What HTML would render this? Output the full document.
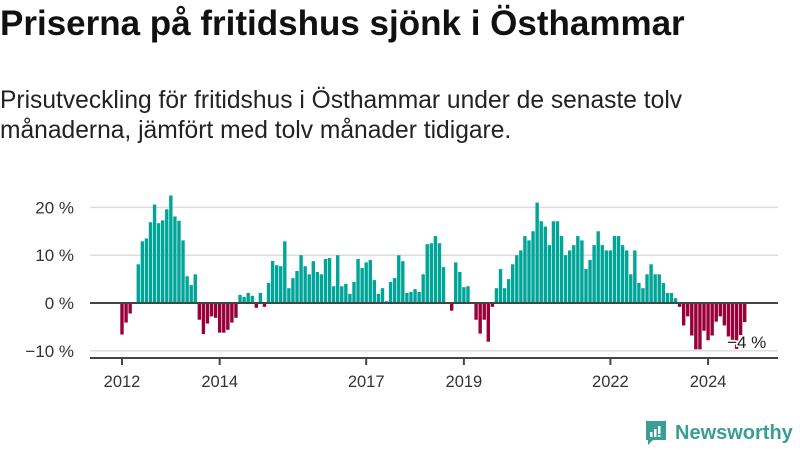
<!DOCTYPE html>
<html><head><meta charset="utf-8"><style>
body{margin:0;background:#fff;font-family:"Liberation Sans",sans-serif;}
#wrap{position:relative;width:800px;height:450px;overflow:hidden;}
h1{position:absolute;left:0;top:4px;margin:0;font-size:35px;line-height:40px;font-weight:bold;color:#111;}
p.sub{position:absolute;left:0;top:86px;margin:0;font-size:24.6px;line-height:30px;color:#222;}
#logo{position:absolute;left:644px;top:420px;display:flex;align-items:center;}
#logo span{font-size:20px;color:#3a9e94;font-weight:bold;margin-left:7px;}
</style></head><body>
<div id="wrap">
<h1>Priserna på fritidshus sjönk i Östhammar</h1>
<p class="sub">Prisutveckling för fritidshus i Östhammar under de senaste tolv<br>månaderna, jämfört med tolv månader tidigare.</p>
<svg id="chart" width="800" height="450" style="position:absolute;left:0;top:0"></svg>
<div id="logo">
<svg width="24" height="26" viewBox="0 0 24 26"><path d="M2 1h20v19H9l-5 5v-5H2z" fill="#3a9e94"/><rect x="6" y="12" width="2.5" height="5" fill="#fff"/><rect x="10" y="9" width="2.5" height="8" fill="#fff"/><rect x="14" y="6" width="2.5" height="8" fill="#fff"/><rect x="14" y="15" width="2.5" height="2" fill="#fff"/></svg>
<span>Newsworthy</span></div>
</div>
<script>
const startYear = 2012;
const values = [-6.6,-4.1,-2.2,0,8.1,12.9,13.5,16.9,20.6,16.7,17.3,19.6,
22.5,18.1,17.2,13.1,5.6,3.75,6.0,-3.5,-6.5,-4.3,-2.8,-3.1,
-6.2,-6.2,-5.6,-4.1,-3.1,1.7,1.25,2.1,1.5,-1.0,2.1,-0.8,
4.2,8.8,7.9,7.7,12.9,3.1,5.2,6.7,10.0,7.7,6.0,8.75,
6.5,6.0,9.2,9.4,3.5,10.0,3.5,4.0,1.9,4.4,9.2,7.3,
8.5,9.0,4.8,1.9,3.1,0.4,4.4,5.2,10.0,8.75,2.1,2.3,
2.9,2.3,6.0,12.3,12.5,14.0,12.5,7.5,0,-1.6,8.5,6.5,
3.3,3.5,0,-3.5,-6.4,-3.5,-8.1,-0.8,3.1,7.1,3.1,5.0,
8.1,10.0,11.0,14.0,13.1,15.0,21.0,17.1,16.0,12.1,17.1,17.1,
14.0,10.0,11.0,12.1,14.0,13.1,7.1,9.0,12.1,15.0,12.1,11.0,
11.0,14.0,14.0,12.1,11.0,6.0,11.0,4.2,3.1,6.0,8.1,6.0,
6.0,4.2,2.1,2.1,1.0,-0.8,-4.7,-2.8,-6.8,-9.7,-9.7,-5.8,
-7.8,-6.8,-3.9,-2.8,-4.7,-7.0,-7.7,-9.6,-6.7,-4.0];
const yTicks = [-10,0,10,20];
const yTickLabels = ["−10 %","0 %","10 %","20 %"];
const xTickYears = [2012,2014,2017,2019,2022,2024];
const lastLabel = "−4 %";

const NS="http://www.w3.org/2000/svg";
const svg=document.getElementById('chart');
const x0=122, pxPerMonth=4.07, yZero=303, pxPerPct=4.78;
const xScale=i=>x0+i*pxPerMonth;
const yScale=v=>yZero-v*pxPerPct;
function mk(t,a){const e=document.createElementNS(NS,t);for(const k in a)e.setAttribute(k,a[k]);svg.appendChild(e);return e;}
yTicks.forEach((t,k)=>{
  const y=yScale(t);
  const g=mk('line',{x1:90,x2:778,y1:y,y2:y,stroke:t===0?'#444':'#ddd','stroke-width':t===0?2:1.5});
  
  
  const tx=mk('text',{x:74,y:y+6,'text-anchor':'end','font-size':17,fill:'#333','font-family':'Liberation Sans'});
  tx.textContent=yTickLabels[k];
  
  
});
values.forEach((v,i)=>{
  const x=xScale(i);
  const y=Math.min(yScale(v),yZero), h=Math.abs(yScale(v)-yZero);
  const r=mk('rect',{x:x-1.7,y:y,width:3.4,height:h,fill:v>=0?'#00a598':'#970038'});
  
  
});
const zl=mk('line',{x1:90,x2:778,y1:yZero,y2:yZero,stroke:'#444','stroke-width':2});


const ax=mk('line',{x1:90,x2:778,y1:358,y2:358,stroke:'#444','stroke-width':2});


xTickYears.forEach(yr=>{
  const x=xScale((yr-startYear)*12);
  const tk=mk('line',{x1:x,x2:x,y1:358,y2:365,stroke:'#444','stroke-width':2});
  
  
  const t=mk('text',{x:x,y:387,'text-anchor':'middle','font-size':16.5,fill:'#333','font-family':'Liberation Sans'});
  t.textContent=yr;
  
  
});
const li=values.length-1;
const lb=mk('text',{x:xScale(li)+2,y:348,'text-anchor':'middle','font-size':17,fill:'#222',stroke:'#fff','stroke-width':3,'paint-order':'stroke','font-family':'Liberation Sans'});
lb.textContent=lastLabel;


</script>
</body></html>
